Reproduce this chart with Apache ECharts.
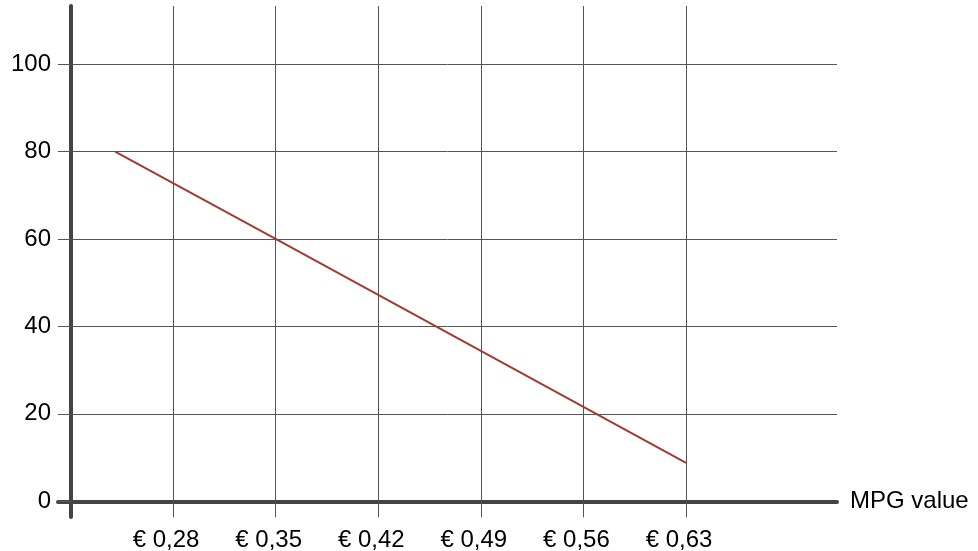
<!DOCTYPE html>
<html>
<head>
<meta charset="utf-8">
<script src="https://cdn.jsdelivr.net/npm/echarts@6/dist/echarts.min.js"></script>
<style>html,body{margin:0;padding:0;background:#fff;}#c{width:978px;height:551px;}</style>
</head>
<body>
<div id="c"></div>
<script>
const mpgValue = [0.2405, 0.28, 0.35, 0.42, 0.49, 0.56, 0.63];
const costValues = [80, 72.8, 60, 47.2, 34.4, 21.6, 8.8];
const xTicks = [0.28, 0.35, 0.42, 0.49, 0.56, 0.63];
const yTicks = [0, 20, 40, 60, 80, 100];
const xName = 'MPG value';

const chart = echarts.init(document.getElementById('c'), null, {renderer: 'canvas'});
const font = 'Liberation Sans, Arial, sans-serif';
chart.setOption({
  animation: false,
  backgroundColor: '#ffffff',
  grid: {left: 58, right: 141, top: 6, bottom: 34, containLabel: false, outerBoundsMode: 'none'},
  xAxis: {
    type: 'value',
    min: 0.2015, max: 0.733,
    name: xName,
    nameLocation: 'end',
    nameGap: 13,
    nameTextStyle: {color: '#000', fontSize: 24, fontFamily: font},
    axisLine: {show: true, onZero: true, lineStyle: {color: '#444', width: 4}},
    axisTick: {show: true, customValues: xTicks, length: 16, lineStyle: {color: '#555', width: 1}},
    axisLabel: {customValues: xTicks, margin: 11, color: '#000', fontSize: 24, fontFamily: font,
      padding: [0, 14, 0, 0],
      formatter: v => '€ ' + v.toFixed(2).replace('.', ',')},
    splitLine: {show: true, lineStyle: {color: '#555', width: 1}}
  },
  yAxis: {
    type: 'value',
    min: -3.6, max: 113.3,
    offset: -13,
    axisLine: {show: true, onZero: false, lineStyle: {color: '#444', width: 4}},
    axisTick: {show: true, customValues: yTicks, length: 13, lineStyle: {color: '#555', width: 1}},
    axisLabel: {customValues: yTicks, margin: 20, color: '#000', fontSize: 24, fontFamily: font},
    splitLine: {show: true, lineStyle: {color: '#555', width: 1}}
  },
  series: [{
    type: 'line',
    data: mpgValue.map((x, i) => [x, costValues[i]]),
    symbol: 'none',
    lineStyle: {color: '#a33a32', width: 2},
    z: 1
  }]
});
</script>
</body>
</html>
